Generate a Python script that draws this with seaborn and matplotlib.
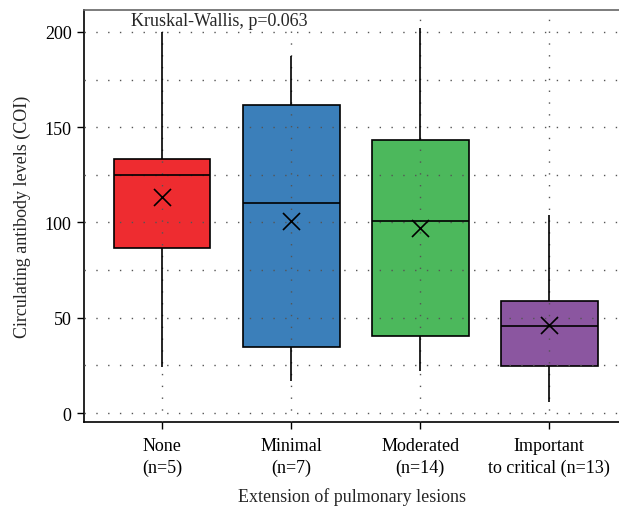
import numpy as np
import pandas as pd
import matplotlib
matplotlib.use("Agg")
import matplotlib.pyplot as plt
import seaborn as sns

categories = ["None\n(n=5)", "Minimal\n(n=7)", "Moderated\n(n=14)", "Important\nto critical (n=13)"]
whisker_low = [24, 17, 22, 5.6]
q1 = [86.5, 34.8, 40.6, 24.7]
median = [124.7, 110.3, 100.7, 45.9]
q3 = [133.1, 161.8, 143.4, 59]
whisker_high = [200, 187.5, 202, 104]
means = [113.4, 100.8, 97, 46]
colors = ["#EE2C30", "#3B7FBA", "#4CB85C", "#8B56A0"]
y_ticks = [0, 50, 100, 150, 200]
annotation = "Kruskal-Wallis, p=0.063"

sns.set_style("white")
plt.rcParams['font.family'] = ['Liberation Serif', 'DejaVu Serif']

rows = []
for c, lo, a, m, b, hi in zip(categories, whisker_low, q1, median, q3, whisker_high):
    for v in (lo, a, m, b, hi):
        rows.append({"group": c, "value": v})
df = pd.DataFrame(rows)
mean_df = pd.DataFrame({"group": categories, "mean": means})

fig = plt.figure(figsize=(6.19, 5.10), dpi=100)
ax = fig.add_axes([84/619, (510-423)/510, 1 - 84/619, (423-11)/510])

# grid
for y in np.arange(0, 201, 25):
    ax.axhline(y, color="#555555", lw=1.0, ls=(0, (1, 7.5)), zorder=0)
for i in range(len(categories)):
    ax.axvline(i, color="#555555", lw=1.0, ls=(0, (1, 7.5)), zorder=0)

sns.boxplot(data=df, x="group", y="value", hue="group", palette=colors,
            order=categories, whis=np.inf, width=0.75, linecolor="black",
            linewidth=1.2, legend=False, ax=ax,
            capprops=dict(linewidth=0), saturation=1)
for line in ax.lines:
    line.set_zorder(3)

sns.scatterplot(data=mean_df, x="group", y="mean", marker="x", s=150,
                color="black", linewidth=1.2, ax=ax, zorder=5, legend=False)

ax.set_xlim(-0.605, 3.54)
ax.set_ylim(-4.7, 211.5)
ax.set_yticks(y_ticks)
ax.tick_params(axis="both", which="major", direction="out", length=5, width=1,
               labelsize=13, colors="black", bottom=True, left=True)
ax.tick_params(axis="x", pad=6)
ax.tick_params(axis="y", pad=4)
for lbl in ax.get_xticklabels():
    lbl.set_linespacing(1.3)
ax.set_xlabel("Extension of pulmonary lesions", fontsize=13, labelpad=8)
ax.set_ylabel("Circulating antibody levels (COI)", fontsize=13, labelpad=10)

ax.spines["right"].set_visible(False)
ax.spines["left"].set_color("black")
ax.spines["bottom"].set_color("black")
ax.spines["top"].set_color("#666666")
for s in ["left", "bottom", "top"]:
    ax.spines[s].set_linewidth(1.2)

ax.text(0.44, 206, annotation, ha="center", va="center", fontsize=13)

fig.savefig("out.png", dpi=100)
